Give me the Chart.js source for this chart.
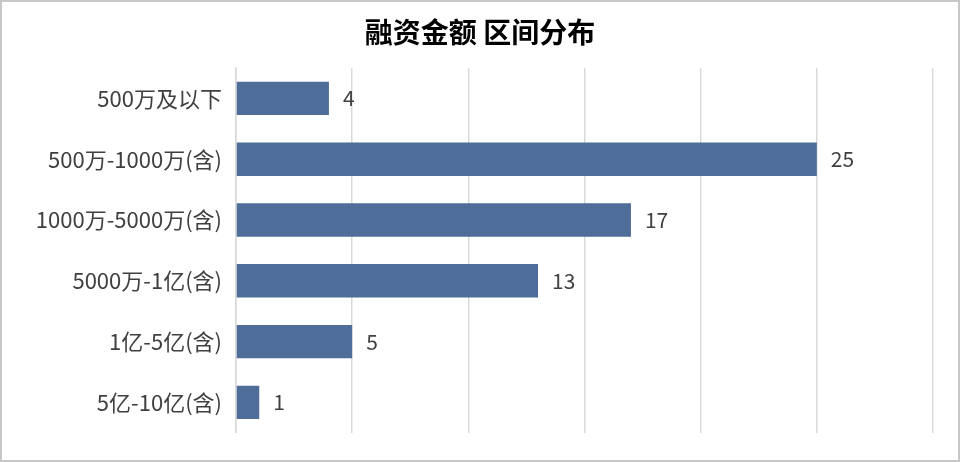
<!DOCTYPE html>
<html>
<head>
<meta charset="utf-8">
<script src="https://cdn.jsdelivr.net/npm/chart.js@4/dist/chart.umd.min.js"></script>
<style>
  html, body { margin: 0; padding: 0; background: #fff; }
  #wrap { width: 960px; height: 462px; box-sizing: border-box; border: 2px solid #c8c8c8; background: #fff; }
  canvas { display: block; }
</style>
</head>
<body>
<div id="wrap"><canvas id="c" width="956" height="458"></canvas></div>
<script>
const titleText = '融资金额 区间分布';
const categories = ['500万及以下', '500万-1000万(含)', '1000万-5000万(含)', '5000万-1亿(含)', '1亿-5亿(含)', '5亿-10亿(含)'];
const counts = [4, 25, 17, 13, 5, 1];
const xMin = 0, xMax = 30, xStep = 5;

const FONT = '"Noto Sans CJK SC", "Noto Sans", sans-serif';

const valueLabels = {
  id: 'valueLabels',
  afterDatasetsDraw(chart) {
    const ctx = chart.ctx;
    const meta = chart.getDatasetMeta(0);
    ctx.save();
    ctx.font = '21px ' + FONT;
    ctx.fillStyle = '#404040';
    ctx.textAlign = 'left';
    ctx.textBaseline = 'middle';
    meta.data.forEach((bar, i) => {
      ctx.fillText(String(counts[i]), bar.x + 14, bar.y);
    });
    ctx.restore();
  }
};

new Chart(document.getElementById('c'), {
  type: 'bar',
  data: {
    labels: categories,
    datasets: [{
      data: counts,
      backgroundColor: '#4e6e99',
      borderWidth: 0,
      categoryPercentage: 1.0,
      barPercentage: 0.55
    }]
  },
  options: {
    indexAxis: 'y',
    responsive: false,
    animation: false,
    layout: { padding: { left: 25, right: 25, top: 0, bottom: 23 } },
    plugins: {
      legend: { display: false },
      tooltip: { enabled: false },
      title: {
        display: true,
        text: titleText,
        color: '#000',
        font: { family: FONT, size: 28, weight: 'bold', lineHeight: 1.2 },
        padding: { top: 13.5, bottom: 18.9 }
      }
    },
    scales: {
      x: {
        min: xMin, max: xMax,
        ticks: { display: false, stepSize: xStep },
        grid: { color: '#d9d9d9', lineWidth: 1.5, drawTicks: false },
        border: { display: false }
      },
      y: {
        ticks: { color: '#404040', font: { family: FONT, size: 22 }, padding: 14 },
        grid: { display: false, drawTicks: false },
        border: { display: true, color: '#d9d9d9', width: 1.5 },
        afterFit(scale) { scale.width = 209; }
      }
    }
  },
  plugins: [valueLabels]
});
</script>
</body>
</html>
